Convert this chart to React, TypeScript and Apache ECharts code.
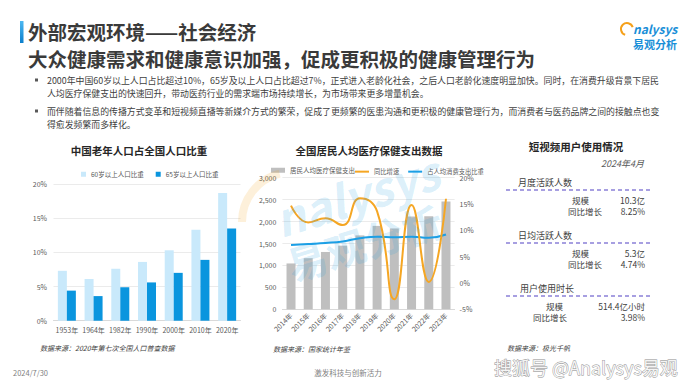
import React, { useEffect, useRef } from 'react';
import * as echarts from 'echarts';

const FONT = "'Noto Sans CJK SC', 'Noto Sans', sans-serif";

// 左图：中国老年人口占全国人口比重
const popYears = ['1953年', '1964年', '1982年', '1990年', '2000年', '2010年', '2020年'];
const pop60 = [7.3, 6.1, 7.6, 8.6, 10.3, 13.3, 18.7];
const pop65 = [4.4, 3.6, 4.9, 5.6, 7.0, 8.9, 13.5];

// 中图：全国居民人均医疗保健支出数据
const healthYears = ['2014年', '2015年', '2016年', '2017年', '2018年', '2019年', '2020年', '2021年', '2022年', '2023年'];
const healthSpend = [1045, 1165, 1307, 1451, 1685, 1902, 1843, 2115, 2120, 2460];
const healthYoy = [14.7, 11.5, 12.3, 11.0, 16.1, 13.6, -3.1, 14.8, 0.2, 16.0];
const healthShare = [7.2, 7.4, 7.6, 7.9, 8.5, 8.8, 8.7, 8.8, 8.6, 9.2];

// 右侧：短视频用户使用情况
const panelSections = ['月度活跃人数', '日均活跃人数', '用户使用时长'];
const panelScale = ['10.3亿', '5.3亿', '514.4亿小时'];
const panelGrowth = ['8.25%', '4.74%', '3.98%'];

const bulletLines = [
  ['2000年中国60岁以上人口占比超过10%，65岁及以上人口占比超过7%，正式进入老龄化社会，之后人口老龄化速度明显加快。同时，在消费升级背景下居民', '人均医疗保健支出的快速回升，带动医药行业的需求端市场持续增长，为市场带来更多增量机会。'],
  ['而伴随着信息的传播方式变革和短视频直播等新媒介方式的繁荣，促成了更频繁的医患沟通和更积极的健康管理行为，而消费者与医药品牌之间的接触点也变', '得愈发频繁而多样化。'],
];

function txt(text: string, x: number, y: number, size: number, opts: any = {}) {
  return {
    type: 'text',
    z: opts.z ?? 10,
    style: {
      text,
      x,
      y,
      fill: opts.fill ?? '#404040',
      fontSize: size,
      fontWeight: opts.bold ? 'bold' : 'normal',
      fontStyle: opts.italic ? 'italic' : 'normal',
      fontFamily: opts.family ?? FONT,
      textAlign: opts.align ?? 'left',
      textVerticalAlign: 'middle',
      opacity: opts.opacity ?? 1,
      stroke: opts.stroke,
      lineWidth: opts.lineWidth,
    },
  };
}

function buildGraphic() {
  const g: any[] = [];
  // header bar
  g.push({
    type: 'rect', shape: { x: 20, y: 21, width: 3.5, height: 22 },
    style: { fill: new echarts.graphic.LinearGradient(0, 0, 0, 1, [{ offset: 0, color: '#4DB8F2' }, { offset: 1, color: '#0B7FCC' }]) },
  });
  g.push(txt('外部宏观环境——社会经济', 28, 31.5, 19.5, { bold: true, fill: '#3A3A3A' }));
  g.push(txt('大众健康需求和健康意识加强，促成更积极的健康管理行为', 28, 58, 19.5, { bold: true, fill: '#3A3A3A' }));
  // logo
  g.push({ type: 'arc', shape: { cx: 627, cy: 29, r: 6, startAngle: Math.PI * 0.6, endAngle: Math.PI * 1.9 }, style: { stroke: '#F5A01A', lineWidth: 2, fill: 'none' } });
  g.push(txt('nalysys', 633, 28, 12, { bold: true, italic: true, fill: '#1A8FD8' }));
  g.push(txt('易观分析', 633, 44, 11, { bold: true, fill: '#1A8FD8' }));
  // bullets
  const by = [[80, 93], [111, 124]];
  bulletLines.forEach((lines, i) => {
    g.push({ type: 'rect', shape: { x: 35, y: by[i][0] - 1.5, width: 3, height: 3 }, style: { fill: '#595959' } });
    lines.forEach((l, j) => g.push(txt(l, 47, by[i][j], 8.9, { fill: '#404040' })));
  });
  // chart titles
  g.push(txt('中国老年人口占全国人口比重', 139, 150, 10.5, { bold: true, align: 'center', fill: '#262626' }));
  g.push(txt('全国居民人均医疗保健支出数据', 369, 150, 10.5, { bold: true, align: 'center', fill: '#262626' }));
  g.push(txt('短视频用户使用情况', 576, 146, 10.5, { bold: true, align: 'center', fill: '#262626' }));
  // sources
  g.push(txt('数据来源：2020年第七次全国人口普查数据', 40, 348, 7, { italic: true }));
  g.push(txt('数据来源：国家统计年鉴', 273, 349, 7, { italic: true }));
  g.push(txt('数据来源：极光千帆', 507, 348, 7, { italic: true }));
  // right panel
  g.push(txt('2024年4月', 644, 163, 9, { italic: true, align: 'right', fill: '#595959' }));
  const secY = [182, 235, 288];
  const secX = [518, 518, 520];
  const labX = [[572, 568], [572, 568], [546, 533]];
  secY.forEach((y, i) => {
    g.push(txt(panelSections[i], secX[i], y, 9, { fill: '#404040' }));
    g.push({ type: 'line', shape: { x1: 506, y1: y + 8, x2: 651, y2: y + 8 }, style: { stroke: '#8A80D8', lineWidth: 1.5, lineDash: [4, 3] } });
    g.push(txt('规模', labX[i][0], y + 18, 8.5, { fill: '#404040' }));
    g.push(txt('同比增长', labX[i][1], y + 29, 8.5, { fill: '#404040' }));
    g.push(txt(panelScale[i], 645, y + 18, 8.5, { align: 'right', fill: '#404040' }));
    g.push(txt(panelGrowth[i], 645, y + 29, 8.5, { align: 'right', fill: '#404040' }));
  });
  // footer
  g.push(txt('2024/7/30', 13, 372, 7.5, { fill: '#7F7F7F' }));
  g.push(txt('激发科技与创新活力', 348, 372, 7.5, { align: 'center', fill: '#7F7F7F' }));
  g.push(txt('搜狐号 @Analysys易观', 494, 367, 18, { fill: '#F4F4F4', stroke: '#8C8C8C', lineWidth: 0.8, z: 20 }));
  // middle watermark
  g.push({ type: 'arc', z: 30, shape: { cx: 292, cy: 222, r: 50, startAngle: Math.PI * 1.0, endAngle: Math.PI * 1.42 }, style: { stroke: '#F5A01A', lineWidth: 8, fill: 'none', opacity: 0.16 } });
  g.push({
    type: 'text', z: 30, x: 356, y: 194, rotation: 0.3,
    style: { text: 'nalysys', x: 0, y: 0, fill: '#2A9FE3', opacity: 0.18, fontSize: 46, fontWeight: 'bold', fontStyle: 'italic', fontFamily: FONT, textAlign: 'center', textVerticalAlign: 'middle' },
  });
  g.push({
    type: 'text', z: 30, x: 364, y: 242, rotation: 0.3,
    style: { text: '易观分析', x: 0, y: 0, fill: '#2A9FE3', opacity: 0.18, fontSize: 40, fontWeight: 'bold', fontFamily: FONT, textAlign: 'center', textVerticalAlign: 'middle' },
  });
  return g;
}

export default function App() {
  const ref = useRef<HTMLDivElement>(null);
  useEffect(() => {
    document.body.style.margin = '0';
    const chart = echarts.init(ref.current!, null, { renderer: 'svg' });
    const legendText = { fontSize: 6.5, color: '#595959', fontFamily: FONT };
    const axisLabel = { fontSize: 7, color: '#595959', fontFamily: FONT };
    chart.setOption({
      animation: false,
      backgroundColor: '#fff',
      textStyle: { fontFamily: FONT },
      legend: [
        { left: 76, top: 166, itemWidth: 5, itemHeight: 5, itemGap: 12, icon: 'rect', textStyle: legendText, data: ['60岁以上人口比重', '65岁以上人口比重'] },
        { left: 266, top: 162, itemWidth: 14, itemHeight: 5, icon: 'rect', textStyle: legendText, data: ['居民人均医疗保健支出'] },
        { left: 350, top: 163.5, itemWidth: 14, itemHeight: 2, itemGap: 9, icon: 'rect', textStyle: { ...legendText, fontSize: 6.3 }, data: ['同比增速', '占人均消费支出比重'] },
      ],
      grid: [
        { left: 53.5, right: 449.5, top: 184, bottom: 67.3 },
        { left: 282.4, right: 235.4, top: 177.7, bottom: 78.7 },
      ],
      xAxis: [
        { type: 'category', gridIndex: 0, data: popYears, axisLine: { lineStyle: { color: '#D9D9D9' } }, axisTick: { show: false }, axisLabel: { ...axisLabel, margin: 6, interval: 0 } },
        { type: 'category', gridIndex: 1, data: healthYears, axisLine: { lineStyle: { color: '#D9D9D9' } }, axisTick: { show: false }, axisLabel: { ...axisLabel, margin: 5, interval: 0, rotate: 45 } },
      ],
      yAxis: [
        { type: 'value', gridIndex: 0, min: 0, max: 20, interval: 5, axisLine: { show: false }, axisTick: { show: false }, axisLabel: { ...axisLabel, margin: 6.5, formatter: '{value}%' }, splitLine: { lineStyle: { color: '#EBEBEB' } } },
        { type: 'value', gridIndex: 1, min: 0, max: 3000, interval: 500, axisLine: { show: false }, axisTick: { show: false }, axisLabel: { ...axisLabel, margin: 6 }, splitLine: { lineStyle: { color: '#EBEBEB' } } },
        { type: 'value', gridIndex: 1, position: 'right', min: -5, max: 20, interval: 5, axisLine: { show: false }, axisTick: { show: false }, axisLabel: { ...axisLabel, margin: 5, formatter: '{value}%' }, splitLine: { show: false } },
      ],
      series: [
        { name: '60岁以上人口比重', type: 'bar', xAxisIndex: 0, yAxisIndex: 0, data: pop60, barWidth: 9, barGap: '0%', itemStyle: { color: '#C9E9FB' } },
        { name: '65岁以上人口比重', type: 'bar', xAxisIndex: 0, yAxisIndex: 0, data: pop65, barWidth: 9, barGap: '0%', itemStyle: { color: '#0A95DE' } },
        { name: '居民人均医疗保健支出', type: 'bar', xAxisIndex: 1, yAxisIndex: 1, data: healthSpend, barWidth: 9, itemStyle: { color: '#BFBFBF' } },
        { name: '同比增速', type: 'line', xAxisIndex: 1, yAxisIndex: 2, data: healthYoy, smooth: true, showSymbol: false, lineStyle: { color: '#F5A623', width: 2 }, itemStyle: { color: '#F5A623' }, z: 5 },
        { name: '占人均消费支出比重', type: 'line', xAxisIndex: 1, yAxisIndex: 2, data: healthShare, smooth: true, showSymbol: false, lineStyle: { color: '#1A9FE6', width: 2 }, itemStyle: { color: '#1A9FE6' }, z: 4 },
      ],
      graphic: buildGraphic(),
    });
    return () => chart.dispose();
  }, []);
  return <div ref={ref} style={{ width: 690, height: 388, position: 'absolute', left: 0, top: 0, background: '#fff' }} />;
}
